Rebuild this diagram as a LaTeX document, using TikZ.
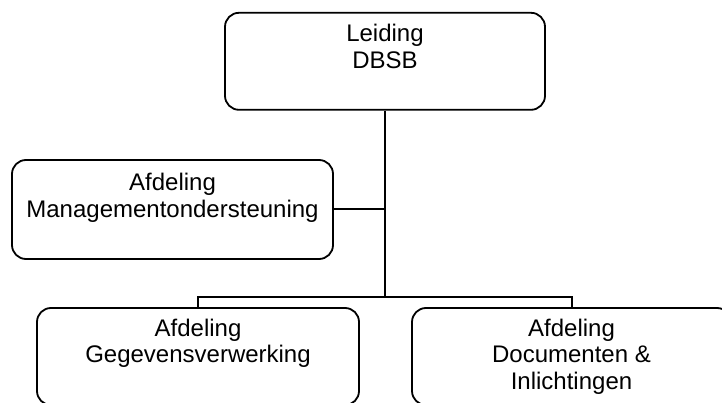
\documentclass[tikz,border=0pt]{standalone}
\usepackage{fontspec}
\setmainfont{Liberation Sans}
\begin{document}
\begin{tikzpicture}[x=1pt,y=-1pt,
  box/.style={draw, line width=1.8pt, rounded corners=14pt, inner sep=0pt},
  lbl/.style={align=center, font=\fontsize{24}{26.7}\selectfont, anchor=north, inner sep=0pt},
  conn/.style={line width=2pt}]
\useasboundingbox (0,0) rectangle (722,403);
\node[box, minimum width=320pt, minimum height=97pt] (top) at (385,61.3) {};
\node[lbl] (toptxt) at ([yshift=-12pt]top.north) {Leiding\\DBSB};
\node[box, minimum width=321pt, minimum height=99pt] (mgmt) at (172.5,209.5) {};
\node[lbl] (mgmttxt) at ([yshift=-13.7pt]mgmt.north) {Afdeling\\Managementondersteuning};
\node[box, minimum width=322pt, minimum height=97pt] (gv) at (198,356.5) {};
\node[lbl] (gvtxt) at ([yshift=-11.5pt]gv.north) {Afdeling\\Gegevensverwerking};
\node[box, minimum width=319pt, minimum height=97pt] (doc) at (571.5,356.5) {};
\node[lbl] (doctxt) at ([yshift=-11.5pt]doc.north) {Afdeling\\Documenten \&\\Inlichtingen};
\coordinate (j) at (385,297);
\draw[conn] (top.south) -- (j);
\draw[conn] (mgmt.east) -- (mgmt.east -| top.south);
\draw[conn] (gv.north) |- (j) -| (doc.north);
\end{tikzpicture}
\end{document}
